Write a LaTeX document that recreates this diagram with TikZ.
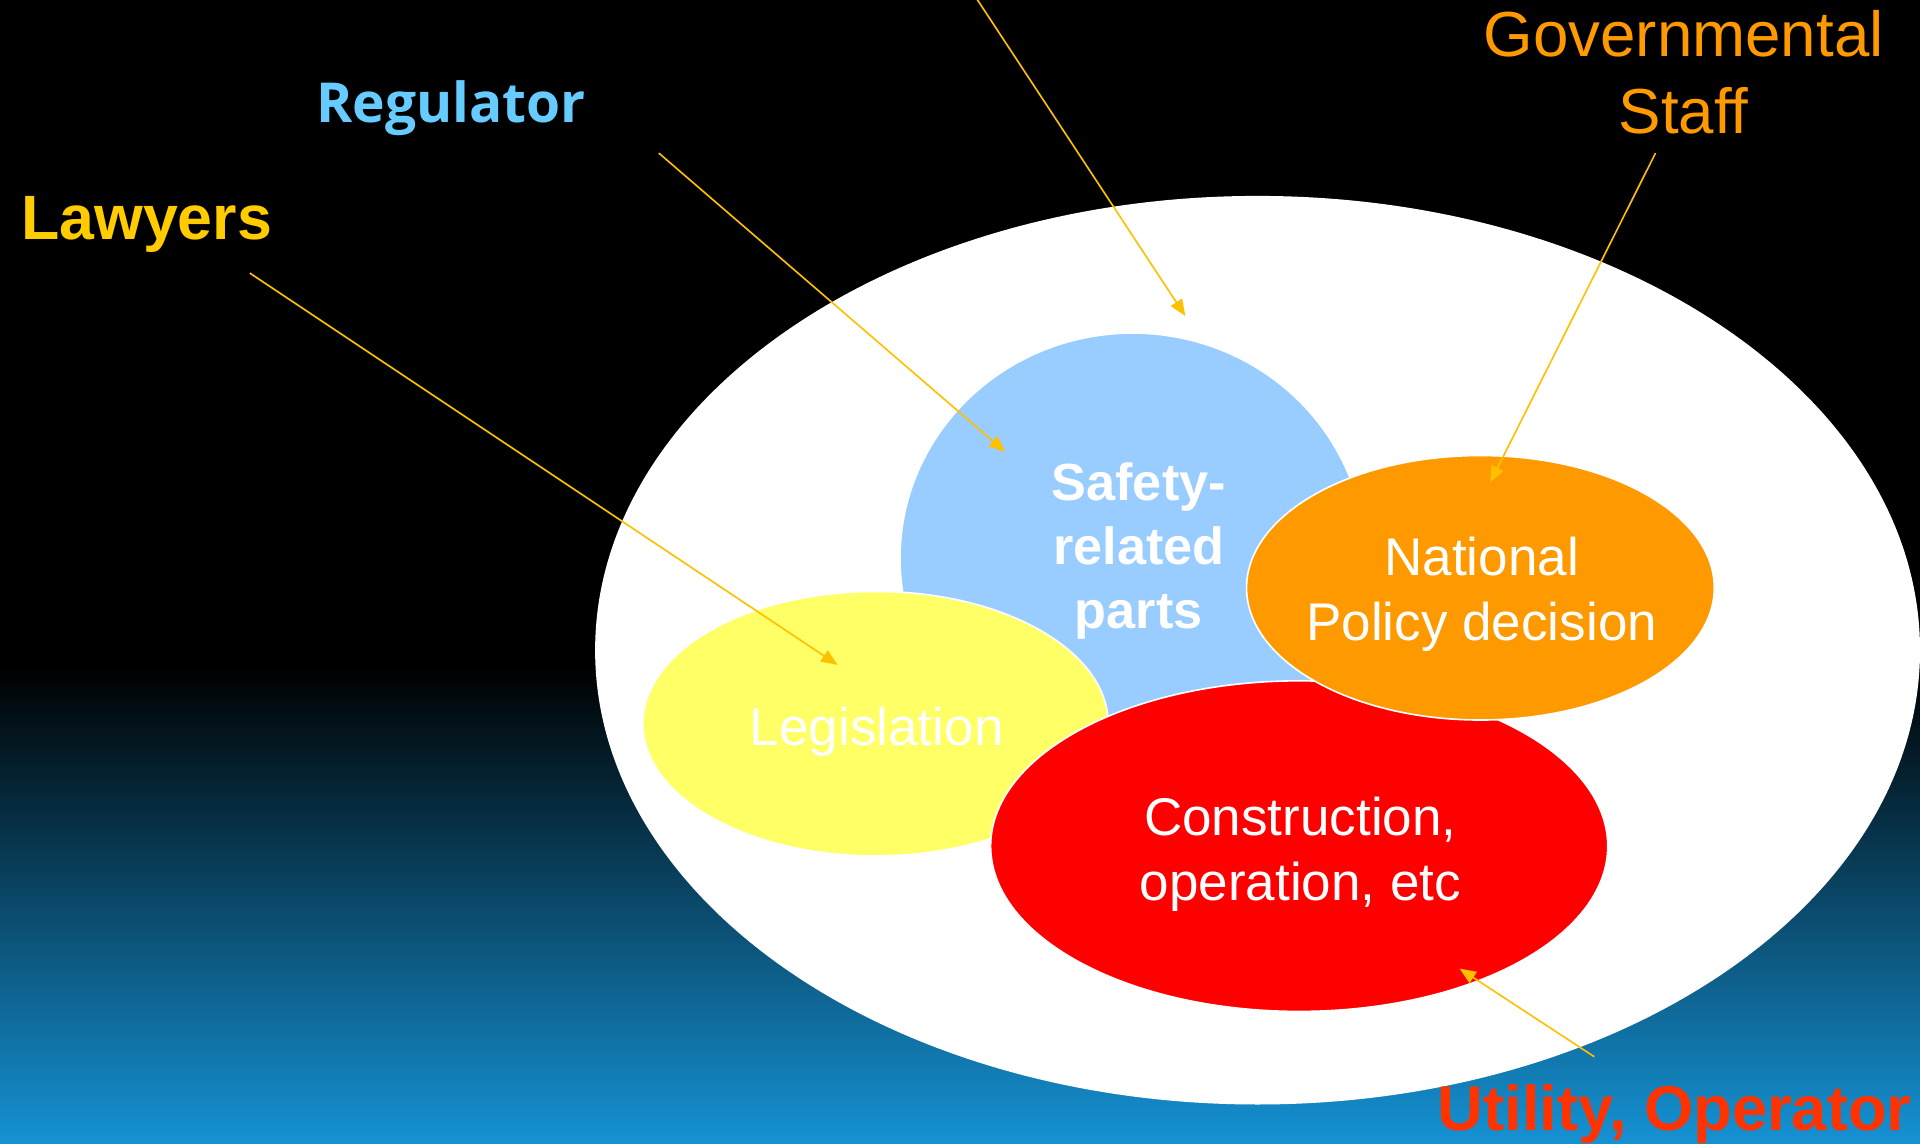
\documentclass[tikz,border=0pt]{standalone}
\usepackage{fontspec}
\setmainfont{Liberation Sans}
\newfontfamily\regfont{Open Sans}
\usetikzlibrary{arrows.meta}

\definecolor{seablue}{HTML}{1592D4}
\definecolor{safetyblue}{HTML}{99CCFF}
\definecolor{lawyellow}{HTML}{FFFF66}
\definecolor{policyorange}{HTML}{FF9900}
\definecolor{arrowgold}{HTML}{FFC000}
\definecolor{lawyergold}{HTML}{FFCC00}
\definecolor{regblue}{HTML}{66CCFF}
\definecolor{utilred}{HTML}{FF3300}

\begin{document}
\begin{tikzpicture}[x = 0.6pt, y = -0.6pt,
  part/.style = {draw = white, line width = 0.8pt},
  inner/.style = {align = center, text = white, font = \fontsize{26}{31.8}\selectfont},
  pointer/.style = {draw = arrowgold, line width = 0.8pt, -{Triangle[length = 8pt, width = 6.5pt]}}]
\useasboundingbox (0,0) rectangle (1568,934);
\clip (0,0) rectangle (1568,934);
% background
\fill[black] (0,0) rectangle (1568,546);
\shade[top color = black, bottom color = seablue] (0,545) rectangle (1568,934);
% fields
\fill[white] (1027,531) ellipse (541 and 371);
\draw[part, fill = safetyblue] (925,456) ellipse (190 and 184);
\draw[part, fill = lawyellow] (715,591) ellipse (190 and 108);
\draw[part, fill = red] (1061,691) ellipse (252 and 135);
\draw[part, fill = policyorange] (1209,480) ellipse (191 and 108);
% texts in the fields
\node[inner, font = \fontsize{25.6}{31.5}\selectfont\bfseries] (safety) at (930,450) {Safety-\\related\\parts};
\node[inner] (policy) at (1210,485) {National\\Policy decision};
\node[inner, anchor = base] (legislation) at (716,609) {Legislation};
\node[inner] (construction) at (1062,698) {Construction,\\operation, etc};
% people
\node[anchor = base west, inner sep = 0, text = lawyergold, font = \fontsize{30.7}{36}\selectfont\bfseries] (lawyers) at (17,196) {Lawyers};
\node[anchor = base west, inner sep = 0, text = regblue, font = \regfont\fontsize{27}{32}\selectfont\bfseries] (regulator) at (258,100) {Regulator};
\node[align = center, text = policyorange, font = \fontsize{31.2}{37.8}\selectfont] (govstaff) at (1375,59) {Governmental\\Staff};
\node[anchor = base west, inner sep = 0, text = utilred, font = \fontsize{31}{36}\selectfont\bfseries] (utility) at (1174,923) {Utility, Operator};
% arrows
\coordinate (topfrom) at (797,-2);
\coordinate (topto) at (968,258);
\coordinate (regfrom) at (538,125);
\coordinate (regto) at (821,369);
\coordinate (lawfrom) at (204,223);
\coordinate (lawto) at (684,543);
\coordinate (govfrom) at (1352,125);
\coordinate (govto) at (1217,394);
\coordinate (utilfrom) at (1302,863);
\coordinate (utilto) at (1192,791);
\draw[pointer] (topfrom) -- (topto);
\draw[pointer] (regfrom) -- (regto);
\draw[pointer] (lawfrom) -- (lawto);
\draw[pointer] (govfrom) -- (govto);
\draw[pointer] (utilfrom) -- (utilto);
\end{tikzpicture}
\end{document}
